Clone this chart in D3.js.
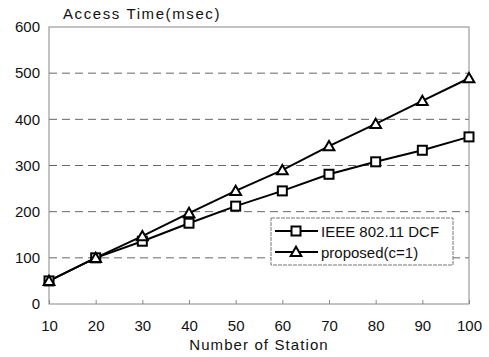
<!DOCTYPE html>
<html>
<head>
<meta charset="utf-8">
<script src="https://cdn.jsdelivr.net/npm/d3@7"></script>
<style>
  body { margin: 0; background: #fff; }
  svg { font-family: "Liberation Sans", Arial, sans-serif; }
</style>
</head>
<body>
<svg id="chart" width="489" height="357"></svg>
<script>
// data
const stations = [10, 20, 30, 40, 50, 60, 70, 80, 90, 100];
const dcf = [50, 100, 136, 175, 212, 245, 281, 308, 333, 362];
const proposed = [50, 100, 147, 197, 245, 290, 342, 390, 440, 489];
const seriesNames = ['IEEE 802.11 DCF', 'proposed(c=1)'];
const yTicks = [0, 100, 200, 300, 400, 500, 600];

const margin = { top: 27, right: 20, bottom: 53, left: 49 };
const width = 489, height = 357;
const innerW = width - margin.left - margin.right;
const innerH = height - margin.top - margin.bottom;

const svg = d3.select('#chart');
const g = svg.append('g')
  .attr('transform', 'translate(' + margin.left + ',' + margin.top + ')');

const x = d3.scaleLinear().domain([10, 100]).range([0, innerW]);
const y = d3.scaleLinear().domain([0, 600]).range([innerH, 0]);

// dashed grid
g.selectAll('.grid')
  .data(yTicks.filter(d => d > 0 && d < 600))
  .enter().append('line')
  .attr('x1', 0).attr('x2', innerW)
  .attr('y1', d => y(d)).attr('y2', d => y(d))
  .attr('stroke', '#666').attr('stroke-width', 1)
  .attr('stroke-dasharray', '8,5');

// plot box
g.append('rect')
  .attr('x', 0).attr('y', 0).attr('width', innerW).attr('height', innerH)
  .attr('fill', 'none').attr('stroke', '#888').attr('stroke-width', 1);

// axes
const yAxis = g.append('g').call(d3.axisLeft(y).tickValues(yTicks).tickSize(0).tickPadding(9));
const xAxis = g.append('g').attr('transform', 'translate(0,' + innerH + ')')
  .call(d3.axisBottom(x).tickValues(stations).tickSize(-4).tickPadding(16));
[yAxis, xAxis].forEach(a => {
  a.select('.domain').remove();
  a.selectAll('.tick line').attr('stroke', '#888');
  a.selectAll('text').attr('font-size', 15).attr('fill', '#111')
    .attr('font-family', '"Liberation Sans", Arial, sans-serif');
});

// titles
svg.append('text')
  .attr('x', 63).attr('y', 19)
  .attr('font-size', 15).attr('letter-spacing', 1.6).attr('fill', '#111')
  .text('Access Time(msec)');
svg.append('text')
  .attr('x', margin.left + innerW / 2).attr('y', 350)
  .attr('text-anchor', 'middle')
  .attr('font-size', 15).attr('letter-spacing', 1.1).attr('fill', '#111')
  .text('Number of Station');

const line = d3.line().x((d, i) => x(stations[i])).y(d => y(d));
const triangle = d3.symbol().type(d3.symbolTriangle).size(50);

function drawMarker(sel, kind) {
  if (kind === 0) {
    sel.append('rect').attr('x', -4.5).attr('y', -4.5).attr('width', 9).attr('height', 9)
      .attr('fill', '#fff').attr('stroke', '#000').attr('stroke-width', 2);
  } else {
    sel.append('path').attr('d', triangle).attr('transform', 'translate(0,1)')
      .attr('fill', '#fff').attr('stroke', '#000').attr('stroke-width', 2);
  }
}

[dcf, proposed].forEach((vals, k) => {
  g.append('path').datum(vals)
    .attr('d', line).attr('fill', 'none')
    .attr('stroke', '#000').attr('stroke-width', 2);
});
[dcf, proposed].forEach((vals, k) => {
  g.selectAll('.m' + k).data(vals).enter().append('g')
    .attr('class', 'm' + k)
    .attr('transform', (d, i) => 'translate(' + x(stations[i]) + ',' + y(d) + ')')
    .each(function () { drawMarker(d3.select(this), k); });
});

// legend
const lg = svg.append('g').attr('transform', 'translate(271,218)');
lg.append('rect').attr('width', 182).attr('height', 47)
  .attr('fill', '#fff').attr('stroke', '#777').attr('stroke-width', 1)
  .attr('stroke-dasharray', '4,1');
seriesNames.forEach((name, k) => {
  const row = lg.append('g').attr('transform', 'translate(0,' + (13 + k * 21) + ')');
  row.append('line').attr('x1', 4).attr('x2', 47).attr('stroke', '#000').attr('stroke-width', 2);
  const m = row.append('g').attr('transform', 'translate(25,0)');
  drawMarker(m, k);
  row.append('text').attr('x', 50).attr('y', 6)
    .attr('font-size', 15).attr('fill', '#111').text(name);
});
</script>
</body>
</html>
